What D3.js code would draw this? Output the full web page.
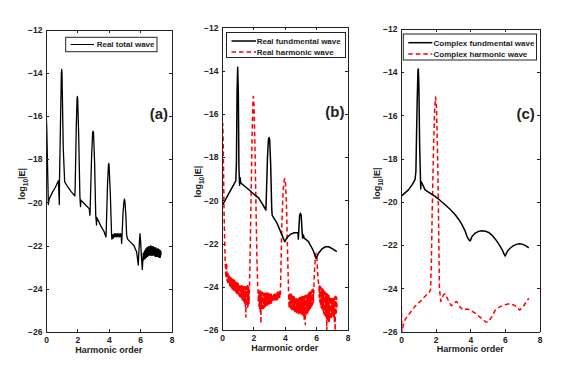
<!DOCTYPE html>
<meta charset="utf-8">
<style>
    body { margin: 0; background: #fff; }
    text { font-family: "Liberation Sans", Arial, sans-serif; font-weight: bold; fill: #222; }
    .axis path, .axis line { fill: none; stroke: #222; shape-rendering: crispEdges; }
</style>

<svg width="587" height="373"></svg>

<script src="https://cdn.jsdelivr.net/npm/d3@7"></script>

<script>
    // values: [harmonic order, log10|E|]
    var xTicks = [0, 2, 4, 6, 8],
        yTicks = [-12, -14, -16, -18, -20, -22, -24, -26],
        panelLabels = ["(a)", "(b)", "(c)"],
        legendNames = [["Real total wave"],
                       ["Real fundmental wave", "Real harmonic wave"],
                       ["Complex fundmental wave", "Complex harmonic wave"]];

    var totalWave = [
        [0.00,-15.7],[0.05,-16.6],[0.15,-20.1],[0.2,-19.85],[0.4,-19.55],[0.6,-19.3],[0.79,-19.0],
        [0.85,-20.1],[0.86,-19.0],[0.92,-16.5],[0.98,-14.0],[1.0,-13.85],[1.02,-14.0],[1.1,-17.5],
        [1.19,-19.05],[1.4,-19.3],[1.6,-19.5],[1.84,-19.7],[1.86,-19.3],[1.93,-16.5],[1.98,-15.2],
        [2.0,-15.1],[2.02,-15.2],[2.08,-16.8],[2.16,-19.7],[2.2,-20.2],[2.22,-19.9],[2.5,-20.1],
        [2.76,-20.3],[2.8,-20.6],[2.82,-20.2],[2.9,-18.0],[2.97,-16.8],[3.0,-16.7],[3.03,-16.8],
        [3.1,-18.2],[3.17,-20.6],[3.22,-21.05],[3.24,-20.7],[3.5,-21.1],[3.7,-21.35],[3.82,-21.6],
        [3.84,-21.3],[3.92,-19.2],[3.98,-18.3],[4.0,-18.2],[4.02,-18.3],[4.1,-19.6],[4.18,-21.5],
        [4.2,-21.7],[4.25,-21.5],[4.3,-21.65],[4.35,-21.45],[4.4,-21.6],[4.45,-21.45],[4.5,-21.6],
        [4.55,-21.45],[4.6,-21.6],[4.65,-21.45],[4.7,-21.6],[4.75,-21.45],[4.8,-21.6],[4.82,-21.9],
        [4.85,-21.5],[4.91,-20.5],[4.97,-19.95],[5.0,-19.85],[5.03,-19.95],[5.09,-20.6],[5.14,-21.5],
        [5.2,-21.7],[5.4,-21.85],[5.6,-22.0],[5.78,-22.3],[5.88,-22.9],[5.9,-22.6],[5.95,-21.9],
        [5.99,-21.45],[6.03,-21.8],[6.09,-22.6],[6.14,-23.1],[6.18,-22.6],
        [6.20,-22.35],[6.24,-22.65],[6.28,-22.25],[6.32,-22.6],[6.36,-22.15],[6.40,-22.55],[6.44,-22.1],
        [6.48,-22.5],[6.52,-22.05],[6.56,-22.45],[6.60,-22.05],[6.64,-22.45],[6.68,-22.0],[6.72,-22.45],
        [6.76,-22.05],[6.80,-22.45],[6.84,-22.05],[6.88,-22.45],[6.92,-22.1],[6.96,-22.5],[7.00,-22.1],
        [7.04,-22.5],[7.08,-22.15],[7.12,-22.5],[7.16,-22.15],[7.20,-22.55],[7.24,-22.2],[7.28,-22.55],
        [7.32,-22.25],[7.34,-22.45]
    ];

    var realFund = [
        [0,-20.25],[0.2,-20.0],[0.42,-19.7],[0.65,-19.4],[0.88,-19.1],[0.92,-18.3],[0.96,-15.0],
        [1.0,-13.85],[1.04,-15.0],[1.08,-18.5],[1.12,-19.3],[1.15,-18.95],[1.2,-19.2],[1.45,-19.35],
        [1.7,-19.5],[2.0,-19.7],[2.34,-19.9],[2.6,-20.2],[2.8,-20.45],[2.84,-19.5],[2.9,-18.0],
        [2.96,-17.2],[3.0,-17.1],[3.04,-17.2],[3.1,-18.3],[3.17,-20.4],[3.2,-20.7],[3.5,-21.05],
        [3.82,-21.6],[4.0,-21.92],[4.15,-21.72],[4.35,-21.58],[4.6,-21.5],[4.84,-21.5],[4.87,-21.8],
        [4.9,-21.3],[4.95,-20.7],[5.0,-20.6],[5.05,-20.7],[5.11,-21.5],[5.14,-21.75],[5.19,-21.6],
        [5.24,-21.75],[5.5,-21.9],[5.8,-22.3],[6.0,-22.7],[6.15,-22.45],[6.37,-22.25],[6.6,-22.15],
        [6.8,-22.15],[7.05,-22.25],[7.32,-22.38]
    ];

    var realHarm = [
        [0.0,-21.4],[0.02,-18.5],[0.05,-16.45],[0.08,-17.5],[0.13,-20.5],[0.2,-22.8],[0.25,-23.6],
        [0.3,-22.9],
        [0.33,-23.75],[0.35,-23.45],[0.37,-23.8],[0.39,-23.4],[0.41,-23.85],[0.43,-23.5],[0.45,-23.9],
        [0.47,-23.5],[0.49,-23.95],[0.51,-23.55],[0.53,-23.95],[0.55,-23.55],[0.57,-24.0],[0.59,-23.6],
        [0.61,-24.05],[0.63,-23.6],[0.65,-24.1],[0.67,-23.65],[0.69,-24.1],[0.71,-23.65],[0.73,-24.15],
        [0.75,-23.7],[0.77,-24.15],[0.79,-23.7],[0.81,-24.2],[0.83,-23.75],[0.85,-24.2],[0.87,-23.75],
        [0.89,-24.25],[0.91,-23.8],[0.93,-24.3],[0.95,-23.8],[0.97,-24.3],[0.99,-23.85],[1.01,-24.35],
        [1.03,-23.85],[1.05,-24.35],[1.07,-23.9],[1.09,-24.4],[1.11,-23.9],[1.13,-24.45],[1.15,-23.9],
        [1.17,-24.45],[1.19,-23.95],[1.21,-24.5],[1.23,-23.95],[1.25,-24.55],[1.27,-23.95],[1.29,-24.6],
        [1.31,-24.0],[1.33,-24.6],[1.35,-24.0],[1.37,-24.65],[1.39,-24.0],[1.41,-24.7],[1.43,-24.0],
        [1.45,-24.8],[1.47,-24.0],[1.49,-24.9],[1.5,-24.0],[1.52,-25.4],[1.54,-24.0],[1.56,-24.9],
        [1.58,-24.0],[1.6,-24.85],[1.62,-23.95],[1.64,-24.95],[1.66,-24.0],[1.68,-24.9],[1.7,-24.0],
        [1.72,-24.8],[1.75,-24.1],
        [1.78,-23.0],[1.85,-20.0],[1.92,-17.0],[1.97,-15.5],[2.0,-15.2],[2.04,-15.6],[2.1,-17.5],
        [2.16,-20.0],[2.23,-22.8],[2.28,-24.1],
        [2.30,-24.15],[2.32,-24.7],[2.34,-24.2],[2.36,-24.9],[2.38,-24.2],[2.40,-25.0],[2.42,-24.2],
        [2.44,-25.2],[2.46,-24.2],[2.48,-25.7],[2.50,-24.25],[2.52,-25.0],[2.54,-24.25],[2.56,-25.1],
        [2.58,-24.25],[2.60,-24.95],[2.62,-24.3],[2.64,-25.0],[2.66,-24.3],[2.68,-24.9],[2.70,-24.3],
        [2.72,-24.95],[2.74,-24.3],[2.76,-24.9],[2.78,-24.3],[2.80,-24.9],[2.82,-24.3],[2.84,-24.85],
        [2.86,-24.3],[2.88,-24.85],[2.90,-24.3],[2.92,-24.8],[2.94,-24.3],[2.96,-24.8],[2.98,-24.3],
        [3.00,-24.8],[3.02,-24.35],[3.04,-24.8],[3.06,-24.35],[3.08,-24.75],[3.10,-24.35],[3.12,-24.75],
        [3.14,-24.35],[3.16,-24.75],[3.18,-24.35],[3.20,-24.7],[3.22,-24.35],[3.24,-24.7],[3.26,-24.35],
        [3.28,-24.7],[3.30,-24.3],[3.32,-24.65],[3.34,-24.3],[3.36,-24.65],[3.38,-24.3],[3.40,-24.65],
        [3.42,-24.3],[3.44,-24.6],[3.46,-24.3],[3.48,-24.6],[3.50,-24.3],[3.52,-24.6],[3.54,-24.25],
        [3.56,-24.55],[3.58,-24.25],[3.60,-24.55],[3.62,-24.2],[3.64,-24.5],[3.66,-24.2],[3.68,-24.5],
        [3.70,-24.2],[3.72,-24.4],
        [3.76,-23.0],[3.82,-21.0],[3.9,-19.5],[3.97,-19.05],[4.0,-19.0],[4.05,-19.2],[4.12,-20.5],
        [4.2,-23.0],[4.25,-24.4],
        [4.28,-25.0],[4.30,-24.3],[4.32,-24.95],[4.34,-24.3],[4.36,-25.0],[4.38,-24.35],[4.40,-25.0],
        [4.42,-24.35],[4.44,-25.05],[4.46,-24.4],[4.48,-25.05],[4.50,-24.4],[4.52,-25.1],[4.54,-24.45],
        [4.56,-25.1],[4.58,-24.45],[4.60,-25.1],[4.62,-24.5],[4.64,-25.15],[4.66,-24.5],[4.68,-25.2],
        [4.70,-24.55],[4.72,-25.2],[4.74,-24.55],[4.76,-25.2],[4.78,-24.6],[4.80,-25.2],[4.82,-24.55],
        [4.84,-25.2],[4.86,-24.55],[4.88,-25.25],[4.90,-24.5],[4.92,-25.25],[4.94,-24.5],[4.96,-25.2],
        [4.98,-24.5],[5.00,-25.2],[5.02,-24.5],[5.04,-25.25],[5.06,-24.5],[5.08,-25.3],[5.10,-24.45],
        [5.12,-25.3],[5.14,-24.45],[5.16,-25.3],[5.18,-24.45],[5.20,-25.4],[5.22,-24.45],[5.24,-25.5],
        [5.26,-24.4],[5.28,-25.4],[5.30,-24.4],[5.31,-25.75],[5.33,-24.4],[5.35,-25.3],[5.37,-24.4],
        [5.39,-25.3],[5.41,-24.35],[5.43,-25.2],[5.45,-24.35],[5.47,-25.2],[5.49,-24.3],[5.51,-25.1],
        [5.53,-24.3],[5.55,-25.1],[5.57,-24.25],[5.59,-25.0],[5.61,-24.25],[5.63,-25.0],[5.65,-24.2],
        [5.67,-24.95],[5.69,-24.2],[5.71,-24.9],[5.73,-24.15],[5.75,-24.85],[5.77,-24.15],[5.79,-24.8],
        [5.81,-24.1],[5.83,-24.7],[5.85,-24.3],
        [5.88,-23.5],[5.95,-22.6],[6.0,-22.45],[6.05,-22.7],[6.12,-23.6],[6.18,-24.0],
        [6.20,-24.5],[6.22,-23.95],[6.24,-24.7],[6.26,-24.0],[6.28,-24.9],[6.30,-24.0],[6.32,-24.95],
        [6.34,-24.05],[6.36,-25.0],[6.38,-24.1],[6.40,-25.05],[6.42,-24.1],[6.44,-25.1],[6.46,-24.15],
        [6.48,-25.2],[6.50,-24.2],[6.52,-25.3],[6.54,-24.25],[6.56,-25.3],[6.58,-24.25],[6.60,-25.4],
        [6.62,-24.3],[6.64,-25.4],[6.66,-24.3],[6.68,-26.2],[6.70,-24.35],[6.72,-25.5],[6.74,-24.35],
        [6.76,-25.5],[6.78,-24.4],[6.80,-25.6],[6.82,-24.4],[6.84,-25.6],[6.86,-24.45],[6.88,-25.5],
        [6.90,-24.45],[6.92,-25.5],[6.94,-24.5],[6.96,-25.4],[6.98,-24.5],[7.00,-25.4],[7.02,-24.55],
        [7.04,-25.3],[7.06,-24.55],[7.08,-25.3],[7.10,-24.5],[7.12,-25.4],[7.14,-24.5],[7.16,-25.6],
        [7.18,-24.5],[7.20,-25.5],[7.21,-26.2],[7.23,-24.45],[7.25,-25.3],[7.27,-24.45],[7.29,-25.2],
        [7.31,-24.5],[7.33,-25.0]
    ];

    var complexFund = [
        [0,-19.74],[0.2,-19.6],[0.43,-19.44],[0.65,-19.2],[0.81,-18.97],[0.86,-18.6],[0.93,-15.5],
        [0.98,-13.9],[1.0,-13.85],[1.03,-14.5],[1.08,-17.5],[1.14,-19.4],[1.16,-19.05],[1.25,-19.2],
        [1.39,-19.44],[1.7,-19.6],[1.97,-19.74],[2.25,-19.92],[2.55,-20.13],[2.85,-20.35],[3.13,-20.59],
        [3.35,-20.82],[3.52,-21.05],[3.68,-21.3],[3.81,-21.59],[3.92,-21.75],[4.0,-21.8],[4.1,-21.6],
        [4.29,-21.44],[4.48,-21.36],[4.68,-21.33],[4.87,-21.35],[5.06,-21.41],[5.25,-21.53],
        [5.45,-21.72],[5.65,-21.95],[5.84,-22.2],[5.95,-22.4],[6.02,-22.5],[6.1,-22.35],[6.2,-22.22],
        [6.32,-22.13],[6.5,-22.02],[6.71,-21.95],[6.85,-21.93],[7.0,-21.95],[7.2,-22.02],[7.38,-22.12]
    ];

    var complexHarm = [
        [0,-23.4],[0.02,-24.8],[0.05,-26.0],[0.1,-25.8],[0.23,-25.44],[0.52,-25.13],[0.81,-24.83],
        [1.2,-24.52],[1.58,-24.21],[1.7,-24.1],[1.75,-23.0],[1.8,-20.5],[1.88,-17.5],[1.95,-15.6],
        [2.0,-15.15],[2.05,-15.6],[2.12,-18.0],[2.18,-21.5],[2.22,-24.0],[2.3,-24.6],[2.45,-24.3],
        [2.55,-24.25],[2.7,-24.5],[2.9,-24.8],[3.05,-24.7],[3.2,-24.6],[3.4,-24.85],[3.6,-25.0],
        [3.8,-24.95],[4.0,-25.0],[4.3,-25.15],[4.6,-25.35],[4.9,-25.55],[5.05,-25.55],[5.25,-25.3],
        [5.45,-25.0],[5.7,-24.85],[6.0,-24.75],[6.3,-24.7],[6.6,-24.8],[6.85,-25.0],[7.05,-24.85],
        [7.25,-24.6],[7.38,-24.45]
    ];

    var solid = {color: "#000", dash: null, width: 1.5},
        dashed = {color: "#ff0000", dash: "4.5,3", width: 1.5};

    var panels = [
        {left: 46, right: 171.5, top: 29.5, bottom: 332,
         series: [{data: totalWave, style: {color: "#000", dash: null, width: 1.3}}],
         legend: {x0: 65.7, x1: 157, y0: 37.3, y1: 51.7, rows: [44.5], l0: 70.7, l1: 94, tx: 96.7}},
        {left: 222, right: 347.5, top: 27.3, bottom: 330,
         series: [{data: realHarm, style: dashed}, {data: realFund, style: solid}],
         legend: {x0: 226.5, x1: 345.5, y0: 32.5, y1: 57.5, rows: [41, 52], l0: 231.5, l1: 256, tx: 256.7}},
        {left: 401, right: 539.5, top: 29, bottom: 331.7,
         series: [{data: complexHarm, style: dashed}, {data: complexFund, style: solid}],
         legend: {x0: 403.3, x1: 536.5, y0: 34, y1: 60, rows: [42.7, 54], l0: 408.3, l1: 432.3, tx: 433.5}}
    ];

    var svg = d3.select("svg");

    panels.forEach(function (p, i) {
        var x = d3.scaleLinear().domain([0, 8]).range([p.left, p.right]),
            y = d3.scaleLinear().domain([-26, -12]).range([p.bottom, p.top]),
            g = svg.append("g");

        g.append("clipPath").attr("id", "clip" + i)
            .append("rect")
            .attr("x", p.left).attr("y", p.top)
            .attr("width", p.right - p.left).attr("height", p.bottom - p.top);

        var line = d3.line()
            .x(function (d) { return x(d[0]); })
            .y(function (d) { return y(d[1]); });

        // series (harmonic first so the black line sits on top)
        p.series.forEach(function (s) {
            g.append("path")
                .datum(s.data)
                .attr("clip-path", "url(#clip" + i + ")")
                .attr("d", line)
                .attr("fill", "none")
                .attr("stroke", s.style.color)
                .attr("stroke-width", s.style.width)
                .attr("stroke-dasharray", s.style.dash)
                .attr("stroke-linejoin", "round");
        });

        // axes with inward ticks on all four sides
        g.append("g").attr("class", "axis")
            .attr("transform", "translate(0," + p.bottom + ")")
            .call(d3.axisBottom(x).tickValues(xTicks).tickSizeInner(-3).tickSizeOuter(0).tickPadding(5));
        g.append("g").attr("class", "axis")
            .attr("transform", "translate(0," + p.top + ")")
            .call(d3.axisTop(x).tickValues(xTicks).tickSizeInner(-3).tickSizeOuter(0).tickFormat(""));
        g.append("g").attr("class", "axis")
            .attr("transform", "translate(" + p.left + ",0)")
            .call(d3.axisLeft(y).tickValues(yTicks).tickSizeInner(-3).tickSizeOuter(0).tickPadding(3.5));
        g.append("g").attr("class", "axis")
            .attr("transform", "translate(" + p.right + ",0)")
            .call(d3.axisRight(y).tickValues(yTicks).tickSizeInner(-3).tickSizeOuter(0).tickFormat(""));

        g.selectAll(".axis text")
            .style("font-size", "8.5px")
            .style("font-family", "'Liberation Sans', Arial, sans-serif")
            .style("font-weight", "bold")
            .attr("fill", "#222");

        // axis titles
        g.append("text")
            .attr("x", (p.left + p.right) / 2)
            .attr("y", p.bottom + 20.5)
            .attr("text-anchor", "middle")
            .style("font-size", "9px")
            .text("Harmonic order");

        var yl = g.append("text")
            .attr("transform", "translate(" + (p.left - 21) + "," + ((p.top + p.bottom) / 2 + 3) + ") rotate(-90)")
            .attr("text-anchor", "middle")
            .style("font-size", "9px");
        yl.append("tspan").text("log");
        yl.append("tspan").attr("dy", 2.5).style("font-size", "6.5px").text("10");
        yl.append("tspan").attr("dy", -2.5).text("|E|");

        // panel letter
        g.append("text")
            .attr("x", x(7.2))
            .attr("y", y(-16.15))
            .attr("text-anchor", "middle")
            .style("font-size", "15px")
            .text(panelLabels[i]);

        // legend
        var lg = p.legend;
        g.append("rect")
            .attr("x", lg.x0).attr("y", lg.y0)
            .attr("width", lg.x1 - lg.x0).attr("height", lg.y1 - lg.y0)
            .attr("fill", "#fff").attr("stroke", "#222").attr("stroke-width", 1);
        legendNames[i].forEach(function (name, k) {
            var st = p.series[p.series.length - 1 - k].style;
            g.append("line")
                .attr("x1", lg.l0).attr("x2", lg.l1)
                .attr("y1", lg.rows[k]).attr("y2", lg.rows[k])
                .attr("stroke", st.color)
                .attr("stroke-width", i === 0 ? 1 : st.width)
                .attr("stroke-dasharray", st.dash);
            g.append("text")
                .attr("x", lg.tx).attr("y", lg.rows[k] + 2.8)
                .style("font-size", "8px")
                .text(name);
        });
    });
</script>
